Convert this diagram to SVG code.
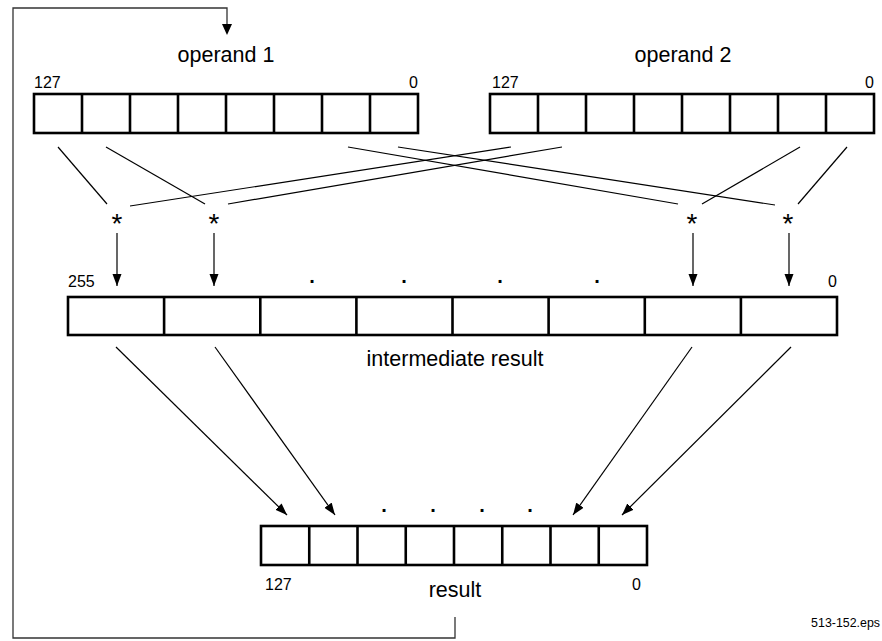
<svg xmlns="http://www.w3.org/2000/svg" width="882" height="641" viewBox="0 0 882 641">
<style>
.box{fill:#fff;stroke:#000;stroke-width:2.6}
.div{stroke:#000;stroke-width:2.6}
.t{font-family:"Liberation Sans",Arial,sans-serif;fill:#000}
.lbl{font-size:21.5px;text-anchor:middle}
.num{font-size:16px}
.dot{font-size:20px;font-weight:bold;text-anchor:middle}
.star{font-size:28px;text-anchor:middle}
.ln{stroke:#000;stroke-width:1.2;fill:none}
.arr{stroke:#000;stroke-width:1.2;fill:none;marker-end:url(#ah)}
.fb{stroke:#333;stroke-width:1.3;fill:none}
</style>
<defs>
<marker id="ah" markerUnits="userSpaceOnUse" markerWidth="12" markerHeight="10" refX="12" refY="5" orient="auto">
<path d="M0,0.5 L12,5 L0,9.5 z" fill="#000"/>
</marker>
</defs>

<g id="operand1">
<text class="t lbl" x="226" y="62">operand 1</text>
<text class="t num" x="34" y="88">127</text>
<text class="t num" x="418" y="88" text-anchor="end">0</text>
<rect class="box" x="34" y="94" width="384" height="39"/>
<path class="div" d="M82,94V133M130,94V133M178,94V133M226,94V133M274,94V133M322,94V133M370,94V133"/>
</g>

<g id="operand2">
<text class="t lbl" x="683" y="62">operand 2</text>
<text class="t num" x="492" y="88">127</text>
<text class="t num" x="874" y="88" text-anchor="end">0</text>
<rect class="box" x="490" y="94" width="384" height="39"/>
<path class="div" d="M538,94V133M586,94V133M634,94V133M682,94V133M730,94V133M778,94V133M826,94V133"/>
</g>

<g id="mul1"><text class="t star" x="117" y="233">*</text></g>
<g id="mul2"><text class="t star" x="214" y="233">*</text></g>
<g id="mul3"><text class="t star" x="692" y="233">*</text></g>
<g id="mul4"><text class="t star" x="788" y="233">*</text></g>

<g id="intermediate">
<text class="t num" x="68" y="287">255</text>
<text class="t num" x="837" y="287" text-anchor="end">0</text>
<text class="t dot" x="312" y="283">.</text>
<text class="t dot" x="404" y="283">.</text>
<text class="t dot" x="500" y="283">.</text>
<text class="t dot" x="597" y="283">.</text>
<rect class="box" x="68" y="297" width="769" height="38"/>
<path class="div" d="M164.1,297V335M260.3,297V335M356.4,297V335M452.5,297V335M548.6,297V335M644.8,297V335M740.9,297V335"/>
<text class="t lbl" x="455" y="366">intermediate result</text>
</g>

<g id="result">
<text class="t dot" x="384" y="512">.</text>
<text class="t dot" x="433" y="512">.</text>
<text class="t dot" x="482" y="512">.</text>
<text class="t dot" x="530" y="512">.</text>
<rect class="box" x="261" y="526" width="386" height="39"/>
<path class="div" d="M309.25,526V565M357.5,526V565M405.75,526V565M454,526V565M502.25,526V565M550.5,526V565M598.75,526V565"/>
<text class="t num" x="265" y="590">127</text>
<text class="t num" x="641" y="590" text-anchor="end">0</text>
<text class="t lbl" x="455" y="597">result</text>
</g>

<g id="footer">
<text class="t" x="880" y="627" font-size="12.4" text-anchor="end">513-152.eps</text>
</g>

<g id="connectors">
<line class="ln" x1="58" y1="147" x2="107" y2="204"/>
<line class="ln" x1="106" y1="147" x2="205" y2="204"/>
<line class="ln" x1="348" y1="147" x2="678" y2="204"/>
<line class="ln" x1="398" y1="147" x2="775" y2="205"/>
<line class="ln" x1="511" y1="147" x2="130" y2="206"/>
<line class="ln" x1="562" y1="147" x2="228" y2="204"/>
<line class="ln" x1="800" y1="147" x2="702" y2="204"/>
<line class="ln" x1="847" y1="147" x2="798" y2="204"/>
<line class="arr" x1="117" y1="233" x2="117" y2="286"/>
<line class="arr" x1="214" y1="233" x2="214" y2="286"/>
<line class="arr" x1="693" y1="233" x2="693" y2="286"/>
<line class="arr" x1="789" y1="233" x2="789" y2="286"/>
<line class="arr" x1="116" y1="347" x2="287" y2="515"/>
<line class="arr" x1="215" y1="347" x2="335" y2="515"/>
<line class="arr" x1="692" y1="347" x2="573" y2="515"/>
<line class="arr" x1="791" y1="347" x2="622" y2="515"/>
<path class="fb" d="M455,617V638H13V8H227V26"/>
<path d="M222,24 L232,24 L227,35 z" fill="#000"/>
</g>
</svg>
